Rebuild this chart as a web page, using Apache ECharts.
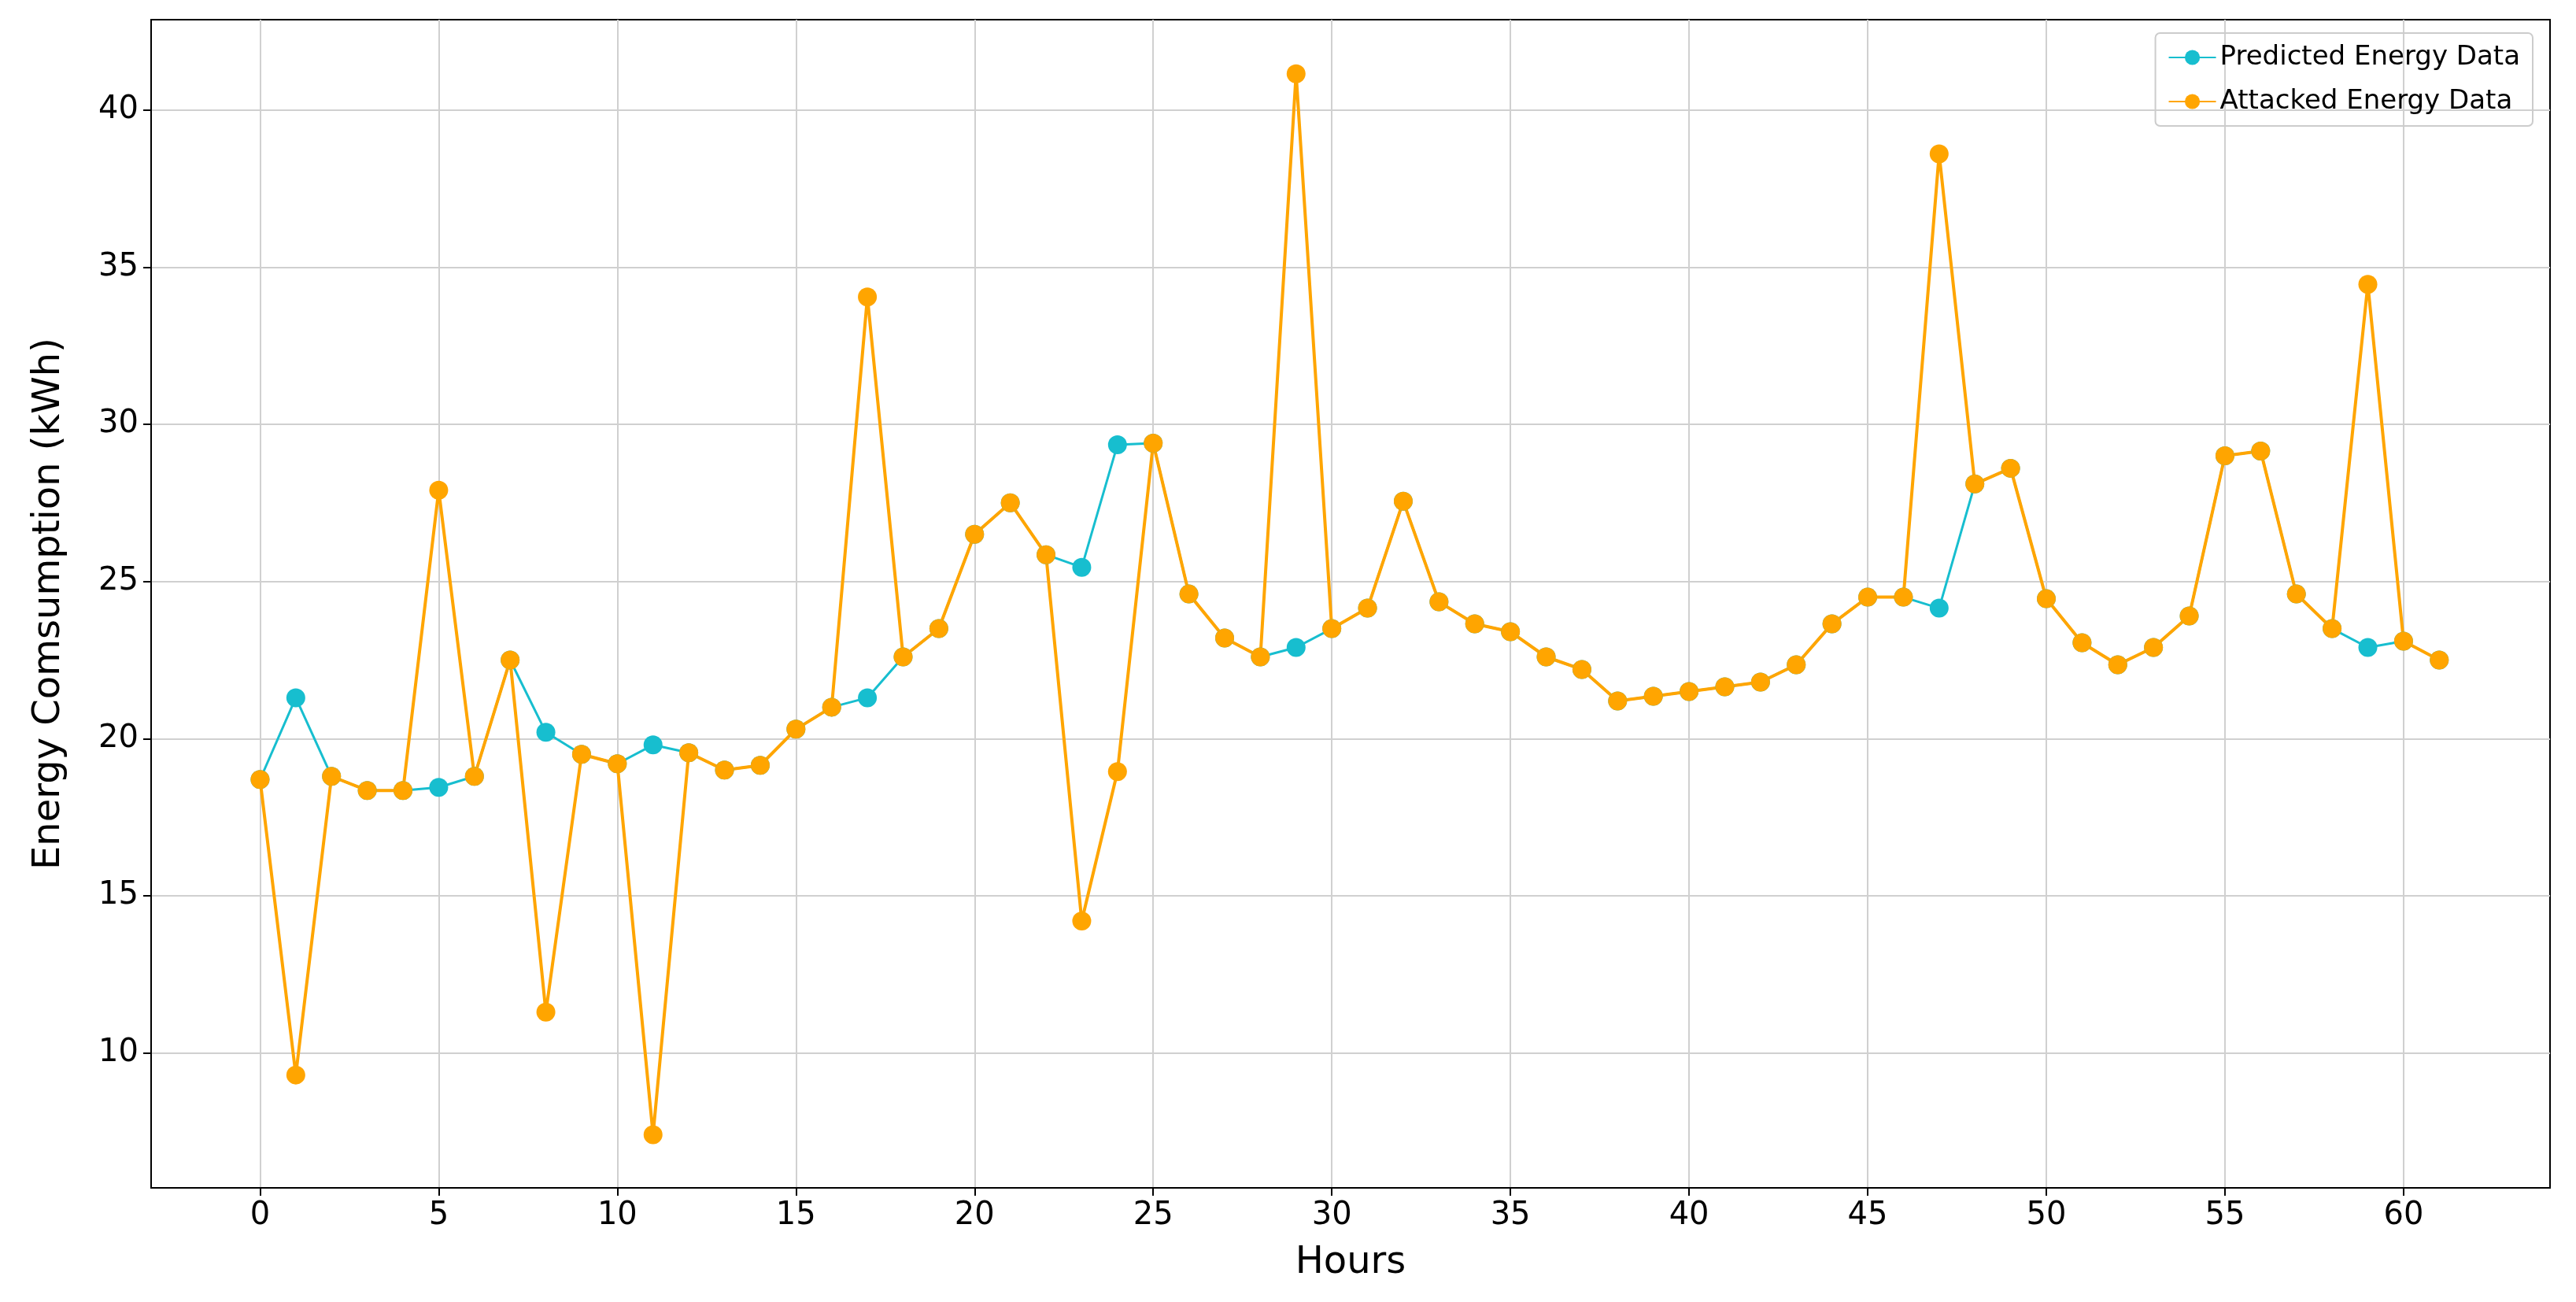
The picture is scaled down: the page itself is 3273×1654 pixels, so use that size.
<!DOCTYPE html>
<html>
<head>
<meta charset="utf-8">
<script src="https://cdn.jsdelivr.net/npm/echarts@6/dist/echarts.min.js"></script>
<style>html,body{margin:0;padding:0;background:#fff}#main{width:3273px;height:1654px}</style>
</head>
<body>
<div id="main"></div>
<script>
var hours = [];
for (var i = 0; i < 62; i++) hours.push(i);
var predicted = [18.7, 21.3, 18.8, 18.35, 18.35, 18.45, 18.8, 22.5, 20.2, 19.5,
  19.2, 19.8, 19.55, 19.0, 19.15, 20.3, 21.0, 21.3, 22.6, 23.5,
  26.5, 27.5, 25.85, 25.45, 29.35, 29.4, 24.6, 23.2, 22.6, 22.9,
  23.5, 24.15, 27.55, 24.35, 23.65, 23.4, 22.6, 22.2, 21.2, 21.35,
  21.5, 21.65, 21.8, 22.35, 23.65, 24.5, 24.5, 24.15, 28.1, 28.6,
  24.45, 23.05, 22.35, 22.9, 23.9, 29.0, 29.15, 24.6, 23.5, 22.9,
  23.1, 22.5];
var attacked = [18.7, 9.3, 18.8, 18.35, 18.35, 27.9, 18.8, 22.5, 11.3, 19.5,
  19.2, 7.4, 19.55, 19.0, 19.15, 20.3, 21.0, 34.05, 22.6, 23.5,
  26.5, 27.5, 25.85, 14.2, 18.95, 29.4, 24.6, 23.2, 22.6, 41.15,
  23.5, 24.15, 27.55, 24.35, 23.65, 23.4, 22.6, 22.2, 21.2, 21.35,
  21.5, 21.65, 21.8, 22.35, 23.65, 24.5, 24.5, 38.6, 28.1, 28.6,
  24.45, 23.05, 22.35, 22.9, 23.9, 29.0, 29.15, 24.6, 23.5, 34.45,
  23.1, 22.5];
var xTicks = [0, 5, 10, 15, 20, 25, 30, 35, 40, 45, 50, 55, 60];
var yTicks = [10, 15, 20, 25, 30, 35, 40];

function pairs(v) { return hours.map(function (h, i) { return [h, v[i]]; }); }

var myChart = echarts.init(document.getElementById('main'));
var font = 'DejaVu Sans';
myChart.setOption({
  animation: false,
  textStyle: { fontFamily: font },
  grid: { left: 192, right: 33, top: 25, bottom: 145, show: true, borderColor: '#000', borderWidth: 2 },
  legend: {
    orient: 'vertical', right: 55, top: 42,
    itemWidth: 60, itemHeight: 24, itemGap: 22,
    padding: [14, 16], borderColor: '#ccc', borderWidth: 2, borderRadius: 6,
    textStyle: { fontSize: 34, color: '#000', fontFamily: font },
    data: ['Predicted Energy Data', 'Attacked Energy Data']
  },
  xAxis: {
    type: 'value', min: -3.05, max: 64.1,
    name: 'Hours', nameLocation: 'middle', nameGap: 72,
    nameTextStyle: { fontSize: 48, color: '#000', fontFamily: font },
    axisLine: { onZero: false, lineStyle: { color: '#000', width: 2 } },
    axisTick: { show: true, length: 10, customValues: xTicks, lineStyle: { color: '#000', width: 2 } },
    axisLabel: { fontSize: 40, color: '#000', margin: 16, customValues: xTicks },
    splitLine: { show: true, lineStyle: { color: '#d0d0d0', width: 2 } }
  },
  yAxis: {
    type: 'value', min: 5.71, max: 42.87,
    name: 'Energy Comsumption (kWh)', nameLocation: 'middle', nameGap: 105,
    nameTextStyle: { fontSize: 48, color: '#000', fontFamily: font },
    axisLine: { show: true, onZero: false, lineStyle: { color: '#000', width: 2 } },
    axisTick: { show: true, length: 10, customValues: yTicks, lineStyle: { color: '#000', width: 2 } },
    axisLabel: { fontSize: 40, color: '#000', margin: 16, customValues: yTicks },
    splitLine: { show: true, lineStyle: { color: '#d0d0d0', width: 2 } }
  },
  series: [
    {
      name: 'Predicted Energy Data', type: 'line', data: pairs(predicted),
      symbol: 'circle', symbolSize: 24,
      itemStyle: { color: '#17becf' }, lineStyle: { color: '#17becf', width: 3 }
    },
    {
      name: 'Attacked Energy Data', type: 'line', data: pairs(attacked),
      symbol: 'circle', symbolSize: 24,
      itemStyle: { color: '#ffa500' }, lineStyle: { color: '#ffa500', width: 4 }
    }
  ]
});
</script>
</body>
</html>
